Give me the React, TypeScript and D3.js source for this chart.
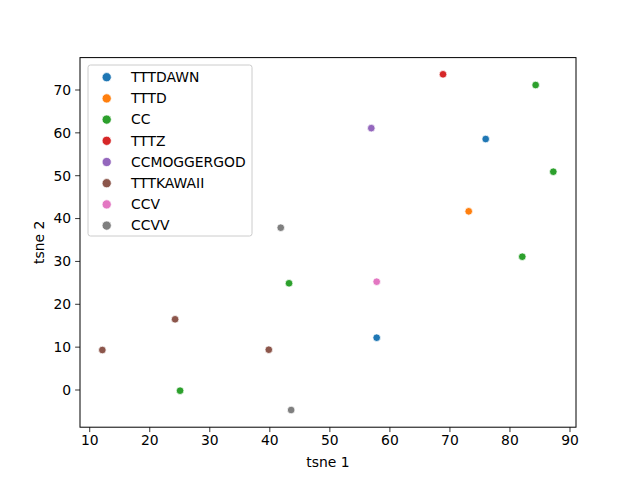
import React from "react";
import * as d3 from "d3";

const categories = ["TTTDAWN", "TTTD", "CC", "TTTZ", "CCMOGGERGOD", "TTTKAWAII", "CCV", "CCVV"];
const colors = ["#1f77b4", "#ff7f0e", "#2ca02c", "#d62728", "#9467bd", "#8c564b", "#e377c2", "#7f7f7f"];
const pointCategory = ["TTTDAWN", "TTTDAWN", "TTTD", "CC", "CC", "CC", "CC", "CC", "TTTZ", "CCMOGGERGOD", "TTTKAWAII", "TTTKAWAII", "TTTKAWAII", "CCV", "CCVV", "CCVV"];
const tsne1 = [75.96, 57.8, 73.13, 84.28, 87.22, 82.05, 43.2, 25.05, 68.85, 56.9, 24.22, 12.1, 39.83, 57.8, 41.82, 43.55];
const tsne2 = [58.56, 12.2, 41.69, 71.16, 50.93, 31.1, 24.9, -0.16, 73.66, 61.1, 16.5, 9.33, 9.4, 25.27, 37.87, -4.67];
const xTicks = [10, 20, 30, 40, 50, 60, 70, 80, 90];
const yTicks = [0, 10, 20, 30, 40, 50, 60, 70];

export default function App() {
  const W = 640, H = 480;
  const left = 80, right = 576, top = 57.6, bottom = 427.2;
  const x = d3.scaleLinear().domain([8.38, 91.0]).range([left, right]);
  const y = d3.scaleLinear().domain([-8.68, 77.56]).range([bottom, top]);
  const color = d3.scaleOrdinal<string, string>().domain(categories).range(colors);
  const font = "DejaVu Sans, sans-serif";
  const tl = 4.86;
  const legX = 88, legY = 65, legW = 164, legH = 171, legStep = 21.2;
  return (
    <svg width={W} height={H} style={{ position: "absolute", left: 0, top: 0 }} fontFamily={font}>
      <rect x={0} y={0} width={W} height={H} fill="white" />
      {tsne1.map((v, i) => (
        <circle key={i} cx={x(v)} cy={y(tsne2[i])} r={3.8} fill={color(pointCategory[i])} stroke="white" strokeWidth={0.75} />
      ))}
      <rect x={left} y={top} width={right - left} height={bottom - top} fill="none" stroke="black" strokeWidth={1} />
      {xTicks.map((t) => (
        <g key={t}>
          <line x1={x(t)} x2={x(t)} y1={bottom} y2={bottom + tl} stroke="black" strokeWidth={0.8} />
          <text x={x(t)} y={bottom + tl + 13} fontSize={13.9} textAnchor="middle" fill="black">{t}</text>
        </g>
      ))}
      {yTicks.map((t) => (
        <g key={t}>
          <line x1={left - tl} x2={left} y1={y(t)} y2={y(t)} stroke="black" strokeWidth={0.8} />
          <text x={left - tl - 4} y={y(t)} dy="0.35em" fontSize={13.9} textAnchor="end" fill="black">{t}</text>
        </g>
      ))}
      <text x={(left + right) / 2} y={467} fontSize={13.9} textAnchor="middle" fill="black">tsne 1</text>
      <text transform={`translate(44, ${(top + bottom) / 2}) rotate(-90)`} fontSize={13.9} textAnchor="middle" fill="black">tsne 2</text>
      <rect x={legX} y={legY} width={legW} height={legH} rx={2.5} fill="white" fillOpacity={0.8} stroke="#cccccc" strokeWidth={1} />
      {categories.map((c, i) => (
        <g key={c}>
          <circle cx={106.7} cy={77.2 + i * legStep} r={4.6} fill={color(c)} stroke="white" strokeWidth={0.75} />
          <text x={131} y={77.2 + i * legStep} dy="0.35em" fontSize={13.9} fill="black">{c}</text>
        </g>
      ))}
    </svg>
  );
}
